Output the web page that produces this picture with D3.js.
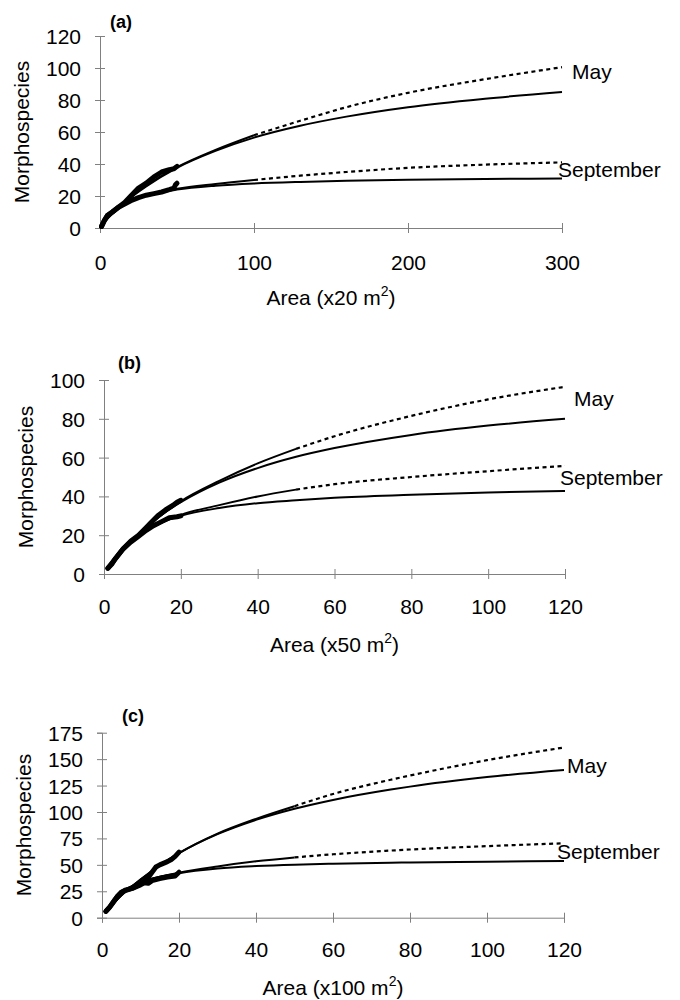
<!DOCTYPE html>
<html>
<head>
<meta charset="utf-8">
<script src="https://cdn.jsdelivr.net/npm/d3@7"></script>
<style>
  body { margin: 0; background: #fff; }
  svg { display: block; }
  text { font-family: "Liberation Sans", Arial, sans-serif; fill: #000; }
</style>
</head>
<body>
<svg id="chart" width="680" height="1000"></svg>
<script>
// ---------- Panel (a) data: Area (x20 m2) ----------
const aFitX      = [0, 5, 10, 20, 30, 50, 75, 100, 130, 160, 200, 250, 300];
const aMayUpper  = [0, 6, 11, 19.5, 26.5, 38, 48.8, 58, 67, 75.5, 84.5, 93, 100.5];
const aMayLower  = [0, 6, 10.5, 19, 26, 37.6, 48.2, 56.5, 63.9, 69.6, 75.5, 80.8, 85];
const aSepUpper  = [0, 7, 11.5, 17.1, 20.4, 24.5, 27.5, 30, 32.7, 35, 37.6, 39.6, 41];
const aSepLower  = [0, 7, 11.5, 17.1, 20.3, 24, 26.4, 27.8, 28.8, 29.5, 30.1, 30.6, 31];
const aMayObsX   = [1, 3, 5, 8, 12, 16, 20, 25, 30, 35, 40, 45, 48, 50];
const aMayObs    = [1, 5, 8, 10, 13, 16, 20, 25, 28, 32, 35, 36.5, 37, 38.5];
const aSepObsX   = [1, 3, 5, 8, 12, 16, 20, 25, 30, 35, 40, 45, 48, 49, 50];
const aSepObs    = [1, 5, 8, 10, 13, 15, 17, 19, 20.5, 21.5, 22.5, 24, 25, 27, 28];
const aXTicks    = [0, 100, 200, 300];
const aYTicks    = [0, 20, 40, 60, 80, 100, 120];

// ---------- Panel (b) data: Area (x50 m2) ----------
const bFitX      = [1, 5, 10, 15, 20, 30, 40, 50, 60, 80, 100, 120];
const bMayUpper  = [3, 12.6, 22.5, 30.5, 37.5, 48, 57, 64.5, 71, 81.5, 90, 96.5];
const bMayLower  = [3, 12.6, 22.5, 30.5, 37, 47.1, 54.6, 60.4, 64.9, 71.7, 76.5, 80];
const bSepUpper  = [3, 12.6, 21, 26.5, 30.5, 35.5, 40, 43.5, 46.3, 50, 53, 55.7];
const bSepLower  = [3, 12.6, 21, 26.5, 30, 34, 36.5, 38, 39.3, 40.8, 42, 42.8];
const bMayObsX   = [1, 2, 3, 5, 7, 9, 11, 12, 14, 16, 18, 19, 20];
const bMayObs    = [3, 5, 8, 13, 17, 20, 24, 26, 30, 33, 35.5, 37, 38];
const bSepObsX   = [1, 3, 5, 7, 9, 11, 13, 15, 17, 19, 20];
const bSepObs    = [3, 8, 13, 16.5, 19.5, 22.5, 25, 27, 29, 29.5, 30];
const bXTicks    = [0, 20, 40, 60, 80, 100, 120];
const bYTicks    = [0, 20, 40, 60, 80, 100];

// ---------- Panel (c) data: Area (x100 m2) ----------
const cFitX      = [1, 5, 10, 20, 30, 40, 50, 60, 75, 80, 100, 120];
const cMayUpper  = [6, 21, 36, 61, 79.5, 93.5, 105.5, 117, 130.5, 134.5, 149, 161];
const cMayLower  = [6, 21, 36, 61, 79, 92.5, 103, 111.4, 121.2, 124, 133, 139.7];
const cSepUpper  = [7, 23.7, 33.3, 42.5, 48.5, 53.3, 57, 60, 63.5, 64.5, 67.7, 70.4];
const cSepLower  = [7, 23.7, 33.3, 42, 46.5, 48.8, 50.2, 51, 52, 52.3, 53, 53.6];
const cMayObsX   = [1, 2, 3, 4, 5, 6, 8, 10, 12, 13, 14, 15, 17, 18, 19, 20];
const cMayObs    = [6, 10, 15, 20, 24, 26, 28, 32, 38, 43, 48, 50, 53, 55, 58, 62];
const cSepObsX   = [1, 2, 3, 4, 5, 6, 8, 10, 11, 12, 13, 15, 17, 19, 20];
const cSepObs    = [6, 10, 15, 20, 24, 25.5, 28, 31, 33, 32.5, 35, 37, 38.5, 39.5, 43];
const cXTicks    = [0, 20, 40, 60, 80, 100, 120];
const cYTicks    = [0, 25, 50, 75, 100, 125, 150, 175];

const panelLabels = ["(a)", "(b)", "(c)"];
const xTitles     = ["x20 m", "x50 m", "x100 m"];
const seriesNames = ["May", "September"];

// ---------- layout (positions only) ----------
const layout = [
  { x0: 100, x1: 562, y0: 228, y1: 36,  xMax: 300, yMax: 120, brk: 100,
    lab: [110, 28], may: [572, 79], sep: [558, 177], ytitle: [29, 132], xlabY: 270, xtitleY: 305 },
  { x0: 104, x1: 565, y0: 574, y1: 380, xMax: 120, yMax: 100, brk: 50,
    lab: [118, 369], may: [574, 406], sep: [560, 485], ytitle: [33, 477], xlabY: 614, xtitleY: 652 },
  { x0: 102, x1: 564, y0: 917.7, y1: 732.7, xMax: 120, yMax: 175, brk: 50,
    lab: [122, 722], may: [567, 773], sep: [557, 859], ytitle: [31, 825], xlabY: 957, xtitleY: 995 }
];

const panels = [
  { fitX: aFitX, mayU: aMayUpper, mayL: aMayLower, sepU: aSepUpper, sepL: aSepLower,
    mayOX: aMayObsX, mayO: aMayObs, sepOX: aSepObsX, sepO: aSepObs, xt: aXTicks, yt: aYTicks },
  { fitX: bFitX, mayU: bMayUpper, mayL: bMayLower, sepU: bSepUpper, sepL: bSepLower,
    mayOX: bMayObsX, mayO: bMayObs, sepOX: bSepObsX, sepO: bSepObs, xt: bXTicks, yt: bYTicks },
  { fitX: cFitX, mayU: cMayUpper, mayL: cMayLower, sepU: cSepUpper, sepL: cSepLower,
    mayOX: cMayObsX, mayO: cMayObs, sepOX: cSepObsX, sepO: cSepObs, xt: cXTicks, yt: cYTicks }
];

const svg = d3.select("#chart");
const axisColor = "#808080";
const FS = 21;

panels.forEach((p, i) => {
  const L = layout[i];
  const x = d3.scaleLinear().domain([0, L.xMax]).range([L.x0, L.x1]);
  const y = d3.scaleLinear().domain([0, L.yMax]).range([L.y0, L.y1]);
  const g = svg.append("g");

  // axes
  const yAxis = d3.axisLeft(y).tickValues(p.yt).tickSize(5).tickFormat(d3.format("d"));
  const yg = g.append("g").attr("transform", `translate(${L.x0},0)`).call(yAxis);
  yg.select(".domain").attr("stroke", axisColor).attr("stroke-width", 1);
  yg.selectAll(".tick line").attr("stroke", axisColor).attr("x1", 5).attr("x2", -5);
  yg.selectAll(".tick text").attr("x", -19).attr("dy", "0.36em")
    .style("font-size", FS + "px").style("font-family", "Liberation Sans, Arial, sans-serif").attr("fill", "#000");

  const xAxis = d3.axisBottom(x).tickValues(p.xt).tickSize(5).tickFormat(d3.format("d"));
  const xg = g.append("g").attr("transform", `translate(0,${L.y0})`).call(xAxis);
  xg.select(".domain").attr("stroke", axisColor).attr("stroke-width", 1);
  xg.selectAll(".tick line").attr("stroke", axisColor).attr("y1", -5).attr("y2", 5);
  xg.selectAll(".tick text").attr("y", L.xlabY - L.y0).attr("dy", 0)
    .style("font-size", FS + "px").style("font-family", "Liberation Sans, Arial, sans-serif").attr("fill", "#000");

  const line = d3.line().x(d => x(d[0])).y(d => y(d[1])).curve(d3.curveMonotoneX);
  const pts = (xs, ys) => xs.map((v, k) => [v, ys[k]]);

  // fitted curves: lower solid, upper solid to break then dotted
  [p.mayL, p.sepL].forEach(arr => {
    g.append("path").attr("d", line(pts(p.fitX, arr)))
      .attr("fill", "none").attr("stroke", "#000").attr("stroke-width", 2);
  });
  [p.mayU, p.sepU].forEach(arr => {
    const all = pts(p.fitX, arr);
    g.append("path").attr("d", line(all.filter(d => d[0] <= L.brk)))
      .attr("fill", "none").attr("stroke", "#000").attr("stroke-width", 2);
    g.append("path").attr("d", line(all.filter(d => d[0] >= L.brk)))
      .attr("fill", "none").attr("stroke", "#000").attr("stroke-width", 2.2)
      .attr("stroke-dasharray", "4,3.5");
  });

  // observed accumulation curves (thick)
  [[p.mayOX, p.mayO], [p.sepOX, p.sepO]].forEach(([xs, ys]) => {
    g.append("path").attr("d", d3.line().x(d => x(d[0])).y(d => y(d[1]))(pts(xs, ys)))
      .attr("fill", "none").attr("stroke", "#000").attr("stroke-width", 5)
      .attr("stroke-linejoin", "round").attr("stroke-linecap", "round");
  });

  // series labels
  g.append("text").attr("x", L.may[0]).attr("y", L.may[1]).style("font-size", FS + "px").text(seriesNames[0]);
  g.append("text").attr("x", L.sep[0]).attr("y", L.sep[1]).style("font-size", FS + "px").text(seriesNames[1]);

  // panel label
  g.append("text").attr("x", L.lab[0]).attr("y", L.lab[1]).style("font-size", "18px")
    .style("font-weight", "bold").text(panelLabels[i]);

  // y title
  g.append("text").attr("transform", `translate(${L.ytitle[0]},${L.ytitle[1]}) rotate(-90)`)
    .attr("text-anchor", "middle").style("font-size", FS + "px").text("Morphospecies");

  // x title with superscript
  const xt = g.append("text").attr("x", (L.x0 + L.x1) / 2).attr("y", L.xtitleY)
    .attr("text-anchor", "middle").style("font-size", FS + "px");
  xt.append("tspan").text("Area (" + xTitles[i]);
  xt.append("tspan").attr("dy", -9).style("font-size", "14px").text("2");
  xt.append("tspan").attr("dy", 9).text(")");
});
</script>
</body>
</html>
